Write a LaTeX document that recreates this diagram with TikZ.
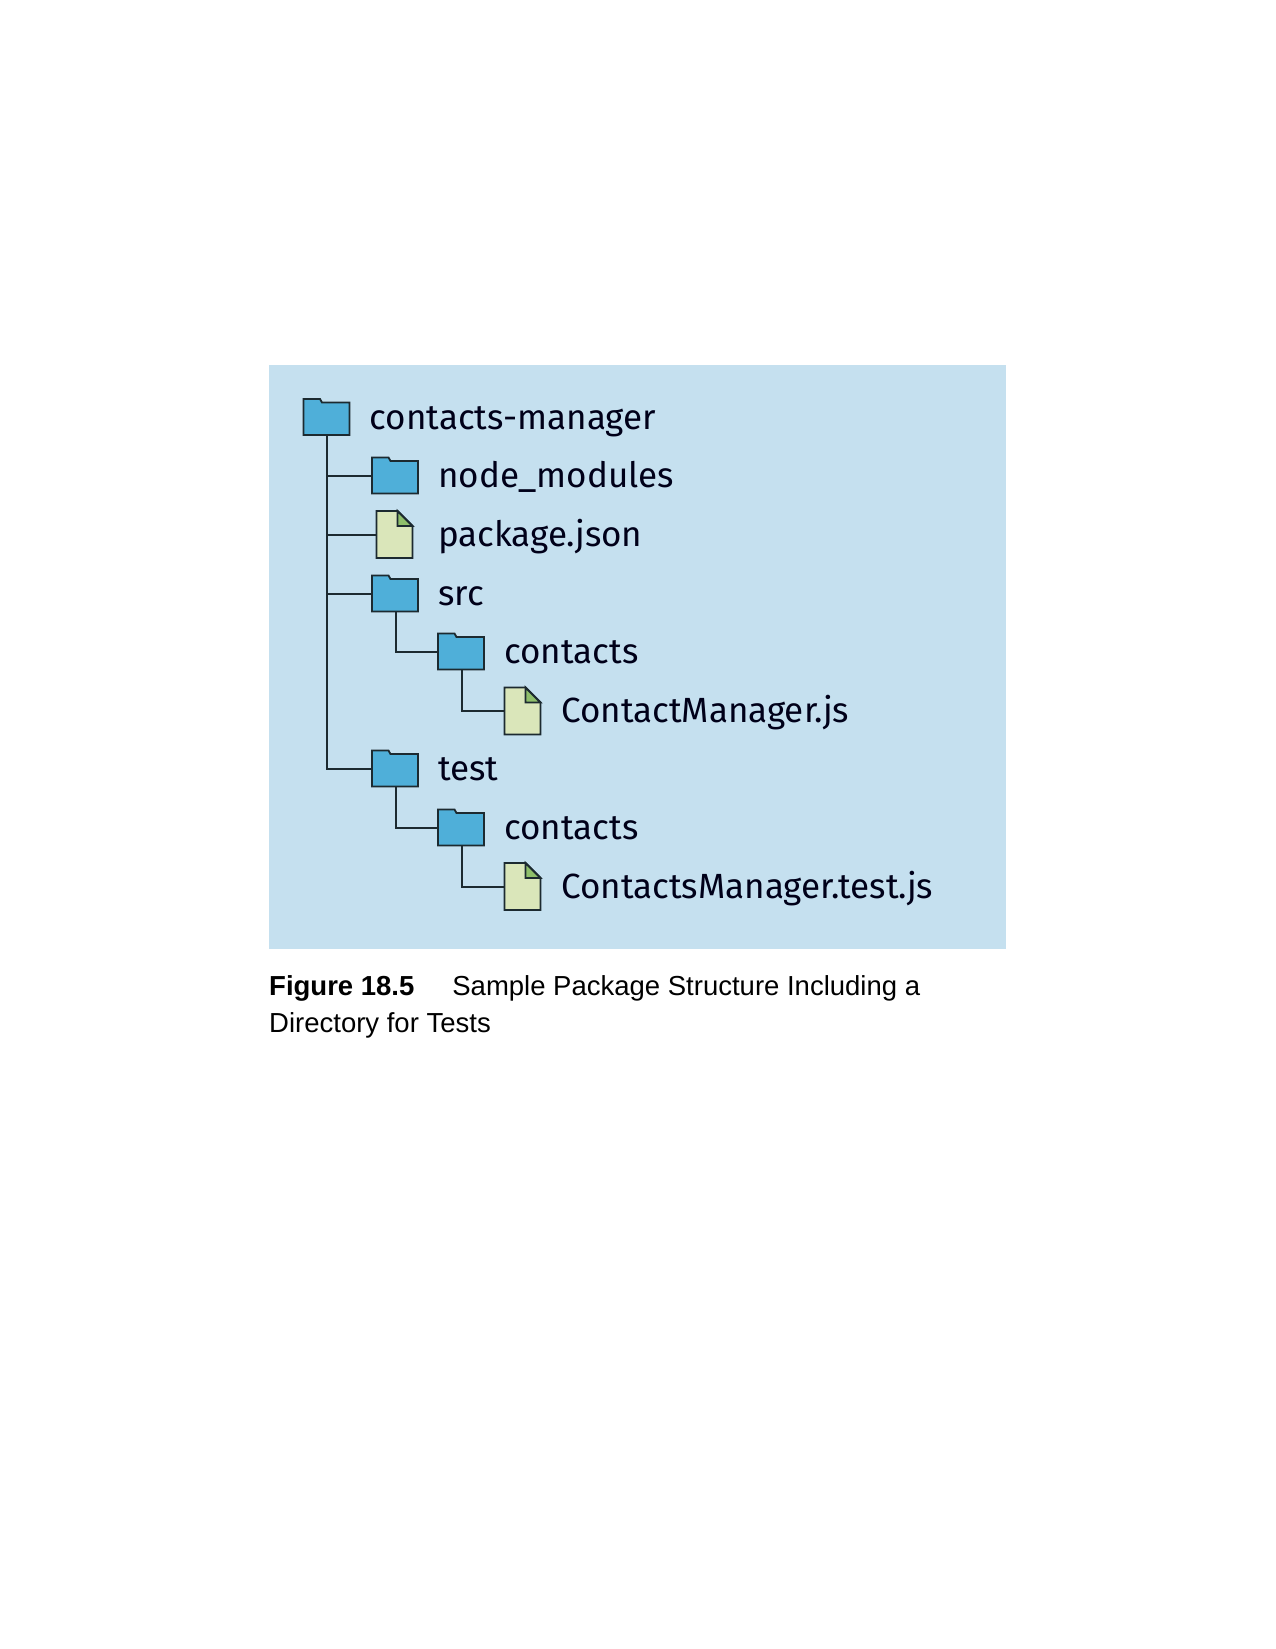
\documentclass[tikz,border=0pt]{standalone}
\usepackage{fontspec}
\setmainfont{Liberation Sans}
\newfontfamily\treefont{Fira Sans}
\definecolor{panelblue}{HTML}{C5E0EF}
\definecolor{folderblue}{HTML}{4FAFD9}
\definecolor{filegreen}{HTML}{DAE6BA}
\definecolor{foldgreen}{HTML}{8FBF6B}
\definecolor{inkdark}{HTML}{1C2A30}
\tikzstyle{panel} = [rectangle, minimum width=737pt, minimum height=584pt, inner sep=0pt, outer sep=0pt, fill=panelblue]
\tikzstyle{folder} = [rectangle, minimum width=46pt, minimum height=36pt, inner sep=0pt, outer sep=0pt,
  append after command={\pgfextra{\let\thisnode\tikzlastnode
    \draw [outline] (\thisnode.south west) -- (\thisnode.north west) -- ++(16.5pt,0) -- ++(2pt,-3.5pt) -| (\thisnode.south east) -- cycle;}}]
\tikzstyle{jsfile} = [rectangle, minimum width=36pt, minimum height=47pt, inner sep=0pt, outer sep=0pt,
  append after command={\pgfextra{\let\thisnode\tikzlastnode
    \draw [outline, fill=filegreen] (\thisnode.south west) -- (\thisnode.north west) -- ++(21pt,0) -- ++(15pt,-15pt) -- (\thisnode.south east) -- cycle;
    \draw [outline, fill=foldgreen] (\thisnode.north west) ++(21pt,0) -- ++(15pt,-15pt) -- ++(-15pt,0) -- cycle;}}]
\tikzstyle{outline} = [draw=inkdark, line width=1.8pt, fill=folderblue, line join=miter]
\tikzstyle{blank} = [rectangle, inner sep=0pt, anchor=base west, text=black!90!blue, font=\treefont\fontsize{35}{35}\selectfont]
\tikzstyle{branch} = [draw=inkdark, line width=2pt]
\tikzstyle{caption} = [rectangle, inner sep=0pt, anchor=north west, align=left, font=\fontsize{27.5}{37}\selectfont]
\begin{document}
\begin{tikzpicture}[x=1pt, y=-1pt]
    \useasboundingbox (0,0) rectangle (1275,1649);
    \node (back) [panel, anchor=north west] at (269,365) {};
    \node (f1) [folder] at (326.5,417) {};
    \node (f2) [folder] at (395,475.5) {};
    \node (d1) [jsfile] at (394.5,534.5) {};
    \node (f3) [folder] at (395,593.5) {};
    \node (f4) [folder] at (461,651.5) {};
    \node (d2) [jsfile] at (522.5,711) {};
    \node (f5) [folder] at (395,768.5) {};
    \node (f6) [folder] at (461,827.5) {};
    \node (d3) [jsfile] at (522.5,886.5) {};
    \node (t1) [blank] at (369.5,429) {contacts-manager};
    \node (t2) [blank] at (438,487) {node\_modules};
    \node (t3) [blank] at (438,546.5) {package.json};
    \node (t4) [blank] at (438,605.5) {src};
    \node (t5) [blank] at (504,663.5) {contacts};
    \node (t6) [blank] at (561,722.5) {ContactManager.js};
    \node (t7) [blank] at (438,780.5) {test};
    \node (t8) [blank] at (504,839.5) {contacts};
    \node (t9) [blank] at (561,898.5) {ContactsManager.test.js};
    \draw [branch] (f1.south) |- (f2.west);
    \draw [branch] (f1.south) |- (d1.west);
    \draw [branch] (f1.south) |- (f3.west);
    \draw [branch] (f1.south) |- (f5.west);
    \draw [branch] ([xshift=1pt]f3.south) |- (f4.west);
    \draw [branch] ([xshift=1pt]f4.south) |- (d2.west);
    \draw [branch] ([xshift=1pt]f5.south) |- (f6.west);
    \draw [branch] ([xshift=1pt]f6.south) |- (d3.west);
    \node (c1) [caption] at (269,975) {\textbf{Figure 18.5}\hspace{38pt}Sample Package Structure Including a\\Directory for Tests};
\end{tikzpicture}
\end{document}
